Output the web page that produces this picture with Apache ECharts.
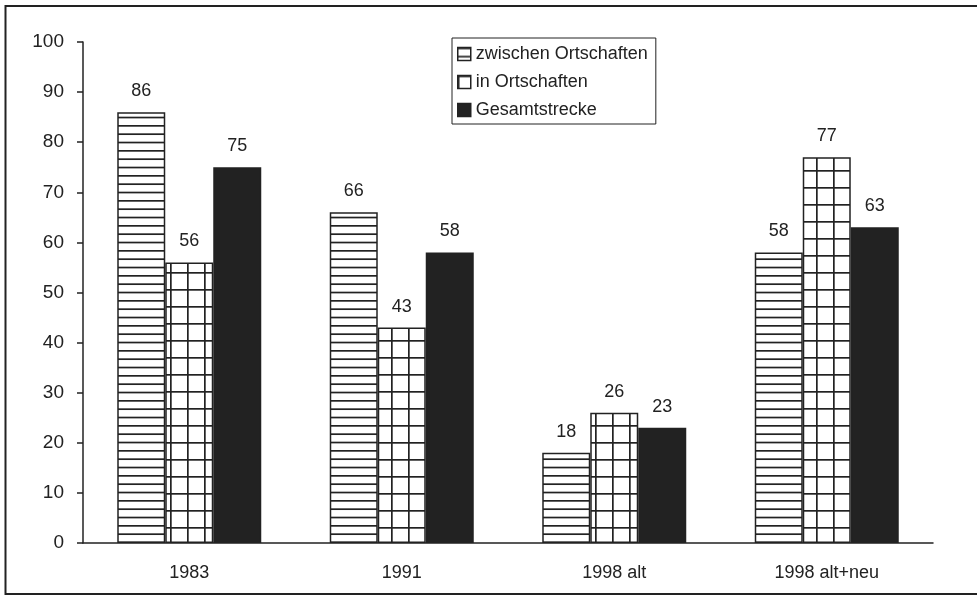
<!DOCTYPE html>
<html>
<head>
<meta charset="utf-8">
<script src="https://cdn.jsdelivr.net/npm/echarts@6/dist/echarts.min.js"></script>
<style>
  html, body { margin: 0; padding: 0; background: #fff; }
  #chart { width: 977px; height: 597px; }
</style>
</head>
<body>
<div id="chart"></div>
<script>
  const categories = ['1983', '1991', '1998 alt', '1998 alt+neu']
  const seriesNames = ['zwischen Ortschaften', 'in Ortschaften', 'Gesamtstrecke']
  const zwischen = [86, 66, 18, 58]
  const inOrt = [56, 43, 26, 77]
  const gesamt = [75, 58, 23, 63]
  const yTicks = [0, 10, 20, 30, 40, 50, 60, 70, 80, 90, 100]

  const ink = '#222'
  const font = '"Liberation Sans", Arial, Helvetica, sans-serif'

  // horizontal hatch: lines every ~8.3px
  const makeLines = () => {
    const c = document.createElement('canvas')
    c.width = 16
    c.height = 25
    const ctx = c.getContext('2d')
    ctx.fillStyle = '#fff'
    ctx.fillRect(0, 0, 16, 25)
    ctx.fillStyle = ink
    ;[0, 8.33, 16.67].forEach(y => ctx.fillRect(0, y, 16, 1.7))
    return c
  }
  // grid hatch: 17px cells
  const makeGrid = () => {
    const c = document.createElement('canvas')
    c.width = 17
    c.height = 17
    const ctx = c.getContext('2d')
    ctx.fillStyle = '#fff'
    ctx.fillRect(0, 0, 17, 17)
    ctx.fillStyle = ink
    ctx.fillRect(0, 0, 17, 1.7)
    ctx.fillRect(0, 0, 1.7, 17)
    return c
  }

  const fills = [
    { image: makeLines(), repeat: 'repeat' },
    { image: makeGrid(), repeat: 'repeat' },
    ink,
  ]
  const values = [zwischen, inOrt, gesamt]

  const series = seriesNames.map((name, i) => ({
    name,
    type: 'bar',
    data: values[i],
    barWidth: 48,
    barGap: '0%',
    itemStyle: {
      color: fills[i],
      borderColor: ink,
      borderWidth: 1.5,
    },
    label: {
      show: true,
      position: 'top',
      distance: 12,
      color: ink,
      fontSize: 18,
      fontFamily: font,
    },
  }))

  const options = {
    animation: false,
    backgroundColor: '#fff',
    grid: {
      left: 83,
      right: 44,
      top: 42,
      bottom: 54,
    },
    legend: {
      orient: 'vertical',
      left: 452,
      top: 38,
      padding: [7, 8, 5, 5],
      itemGap: 10,
      itemWidth: 13,
      itemHeight: 13,
      itemTextGap: 5,
      icon: 'rect',
      borderColor: ink,
      borderWidth: 1,
      borderRadius: 0,
      textStyle: {
        color: ink,
        fontSize: 18,
        fontFamily: font,
      },
      itemStyle: {
        borderColor: ink,
        borderWidth: 1.5,
      },
      data: seriesNames,
    },
    xAxis: {
      type: 'category',
      data: categories,
      axisLine: { lineStyle: { color: ink, width: 1.5 } },
      axisTick: { show: false },
      axisLabel: {
        color: ink,
        fontSize: 18,
        fontFamily: font,
        margin: 21,
      },
    },
    yAxis: {
      type: 'value',
      min: yTicks[0],
      max: yTicks[yTicks.length - 1],
      interval: yTicks[1] - yTicks[0],
      axisLine: { show: true, lineStyle: { color: ink, width: 1.5 } },
      axisTick: { show: true, length: 6, lineStyle: { color: ink, width: 1.5 } },
      splitLine: { show: false },
      axisLabel: {
        color: ink,
        fontSize: 19,
        fontFamily: font,
        margin: 19,
      },
    },
    graphic: [
      {
        type: 'rect',
        shape: { x: 5.5, y: 6, width: 1000, height: 588 },
        style: { fill: null, stroke: ink, lineWidth: 2 },
        silent: true,
      },
    ],
    series,
  }

  const chart = echarts.init(document.getElementById('chart'))
  chart.setOption(options)
  window.addEventListener('resize', function () {
    chart && chart.resize()
  })
</script>
</body>
</html>
